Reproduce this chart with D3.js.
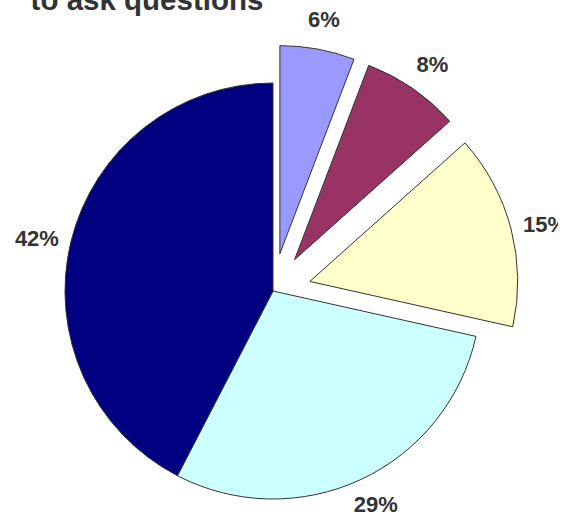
<!DOCTYPE html>
<html>
<head>
<meta charset="utf-8">
<script src="https://cdn.jsdelivr.net/npm/d3@7"></script>
<style>
  body { margin: 0; background: #fff; }
  svg { display: block; font-family: Arial, "Liberation Sans", sans-serif; }
</style>
</head>
<body>
<svg id="chart" width="577" height="518"></svg>
<script>
// pie data, clockwise from 12 o'clock
const categories = ["A", "B", "C", "D", "E"];
const values = [5.8, 7.6, 15.1, 29.1, 42.4];
const labels = ["6%", "8%", "15%", "29%", "42%"];
const colors = ["#9999ff", "#993366", "#ffffcc", "#ccffff", "#000080"];
const exploded = [true, true, true, false, false];

const svg = d3.select("#chart");
const W = 577, H = 518;
const cx = 273, cy = 291, r = 208;
const explode = 38;

// title (only the last line is visible)
svg.append("text")
  .attr("x", 147)
  .attr("y", 10)
  .attr("text-anchor", "middle")
  .attr("font-size", 29.5)
  .attr("font-weight", "bold")
  .attr("fill", "#333")
  .text("to ask questions");

const pie = d3.pie().sort(null).value(d => d.v);
const arcs = pie(categories.map((c, i) => ({c, v: values[i], i})));

const arc = d3.arc().innerRadius(0).outerRadius(r);
const labelArc = d3.arc().innerRadius(r + 35).outerRadius(r + 35);

function shift(d) {
  if (!exploded[d.data.i]) return [0, 0];
  const a = (d.startAngle + d.endAngle) / 2;
  return [Math.sin(a) * explode, -Math.cos(a) * explode];
}

const g = svg.append("g").attr("transform", `translate(${cx},${cy})`);

g.selectAll("path.slice")
  .data(arcs)
  .join("path")
  .attr("class", "slice")
  .attr("d", arc)
  .attr("transform", d => `translate(${shift(d)})`)
  .attr("fill", d => colors[d.data.i])
  .attr("stroke", "#333")
  .attr("stroke-width", 1)
  .attr("stroke-linejoin", "round");

svg.append("clipPath").attr("id", "plotclip")
  .append("rect").attr("x", 0).attr("y", 0).attr("width", 558).attr("height", H);

svg.append("g").attr("clip-path", "url(#plotclip)")
  .selectAll("text")
  .data(arcs)
  .join("text")
  .attr("transform", d => {
    const c = labelArc.centroid(d), s = shift(d);
    const x = cx + c[0] + s[0];
    const y = Math.min(cy + c[1] + s[1], H - 18); // keep bottom label inside
    return `translate(${x},${y})`;
  })
  .attr("dy", "0.55em")
  .attr("text-anchor", "middle")
  .attr("font-size", 22)
  .attr("font-weight", "bold")
  .attr("fill", "#333")
  .text(d => labels[d.data.i]);
</script>
</body>
</html>
